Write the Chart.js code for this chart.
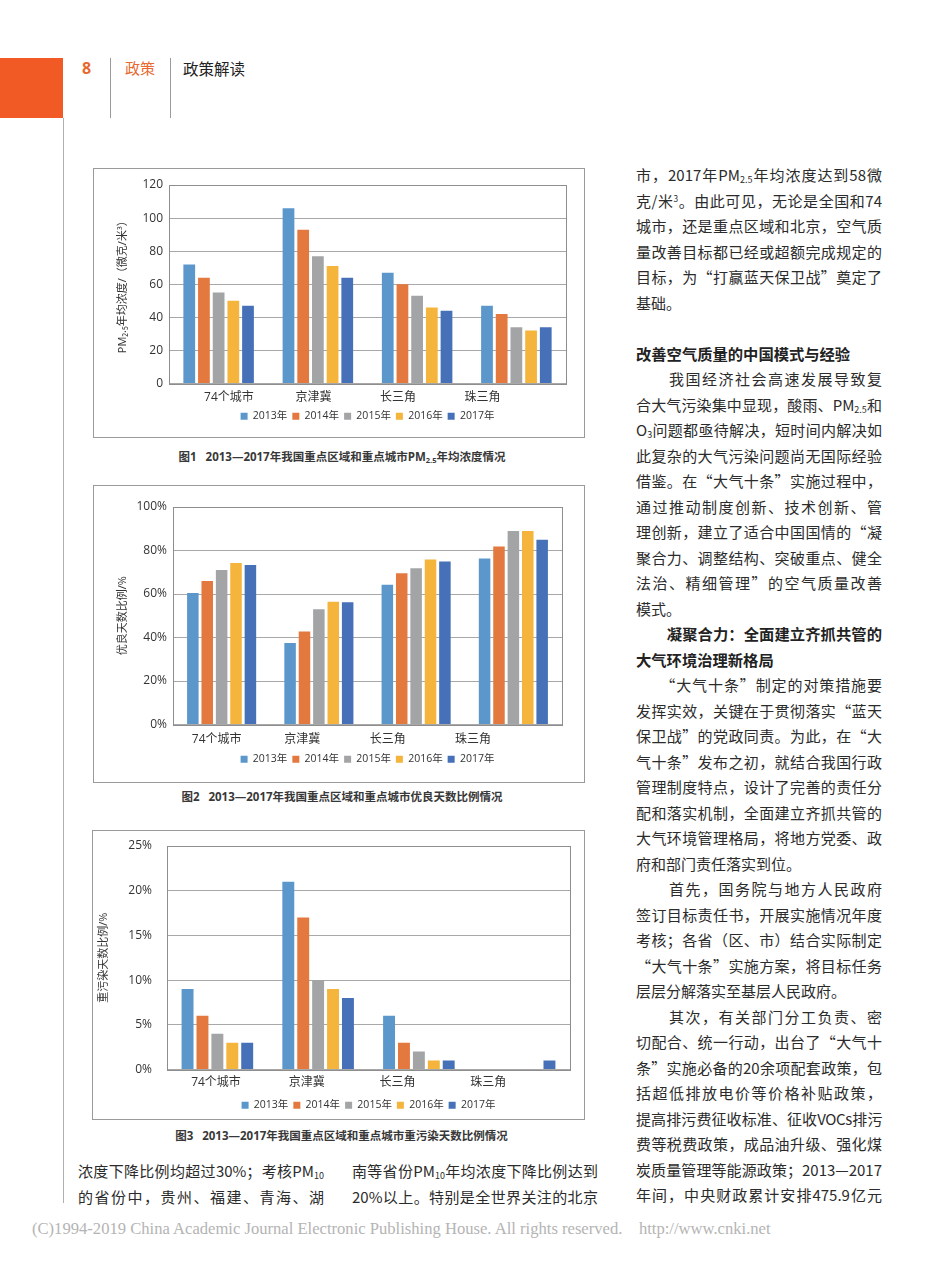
<!DOCTYPE html>
<html>
<head>
<meta charset="utf-8">
<script src="https://cdn.jsdelivr.net/npm/chart.js@4.4.0/dist/chart.umd.min.js"></script>
<style>
  body { margin: 0; width: 950px; height: 1267px; position: relative; overflow: hidden; background: #fff;
         font-family: "Noto Sans CJK SC", sans-serif; color: #2b2b2b; }
  .frame { position: absolute; border: 1px solid #9a9a9a; box-sizing: border-box; }
  .box { position: absolute; }
  .cap { position: absolute; text-align: center; font-size: 11.5px; font-weight: bold; color: #383838; white-space: nowrap;
         font-family: "Open Sans", "Noto Sans CJK SC", sans-serif; }
  .cap sub { font-size: 65%; vertical-align: -0.25em; line-height: 0; }
  .col { position: absolute; width: 246px; font-size: 15px; }
  .col div { height: 25.5px; line-height: 25.5px; text-align: justify; text-align-last: justify; white-space: nowrap; }
  .col div.l { text-align-last: left; }
  .col div.h { font-weight: bold; font-size: 15.3px; color: #222; }
  .col div.t { letter-spacing: -0.4px; }
  .col sub { font-size: 60%; vertical-align: -0.25em; line-height: 0; }
  .col sup { font-size: 55%; vertical-align: 0.6em; line-height: 0; }
  .vline { position: absolute; width: 1px; background: #9a9a9a; }
</style>
</head>
<body>

<div style="position:absolute;left:0;top:58px;width:63px;height:60px;background:#f15a24"></div>
<div class="vline" style="left:63px;top:118px;height:1085px;background:#b0b0b0"></div>
<div style="position:absolute;left:82px;top:57px;font-size:16px;font-weight:bold;color:#e8682f;font-family:'Open Sans',sans-serif">8</div>
<div class="vline" style="left:110px;top:58px;height:60px"></div>
<div style="position:absolute;left:125px;top:57px;font-size:15px;color:#e8682f">政策</div>
<div class="vline" style="left:170px;top:58px;height:60px"></div>
<div style="position:absolute;left:183px;top:57px;font-size:15.5px;color:#222">政策解读</div>

<div class="frame" style="left:93px;top:168px;width:492px;height:270px"></div>
<div class="box" style="left:94px;top:169px;width:490px;height:268px"><canvas id="c1"></canvas></div>
<div class="cap" style="left:93px;top:448px;width:498px">图1&nbsp;&nbsp;&nbsp;2013—2017年我国重点区域和重点城市PM<sub>2.5</sub>年均浓度情况</div>

<div class="frame" style="left:93px;top:485px;width:492px;height:298px"></div>
<div class="box" style="left:94px;top:486px;width:490px;height:296px"><canvas id="c2"></canvas></div>
<div class="cap" style="left:93px;top:788px;width:498px">图2&nbsp;&nbsp;&nbsp;2013—2017年我国重点区域和重点城市优良天数比例情况</div>

<div class="frame" style="left:92px;top:830px;width:493px;height:290px"></div>
<div class="box" style="left:93px;top:831px;width:491px;height:291px"><canvas id="c3"></canvas></div>
<div class="cap" style="left:92px;top:1127px;width:499px">图3&nbsp;&nbsp;&nbsp;2013—2017年我国重点区域和重点城市重污染天数比例情况</div>

<div class="col" style="left:636px;top:162px">
  <div>市，2017年PM<sub>2.5</sub>年均浓度达到58微</div>
  <div>克/米<sup>3</sup>。由此可见，无论是全国和74</div>
  <div>城市，还是重点区域和北京，空气质</div>
  <div>量改善目标都已经或超额完成规定的</div>
  <div>目标，为“打赢蓝天保卫战”奠定了</div>
  <div class="l">基础。</div>
  <div class="l"></div>
  <div class="l h">改善空气质量的中国模式与经验</div>
  <div>　　我国经济社会高速发展导致复</div>
  <div>合大气污染集中显现，酸雨、PM<sub>2.5</sub>和</div>
  <div>O<sub>3</sub>问题都亟待解决，短时间内解决如</div>
  <div>此复杂的大气污染问题尚无国际经验</div>
  <div>借鉴。在“大气十条”实施过程中，</div>
  <div>通过推动制度创新、技术创新、管</div>
  <div>理创新，建立了适合中国国情的“凝</div>
  <div>聚合力、调整结构、突破重点、健全</div>
  <div>法治、精细管理”的空气质量改善</div>
  <div class="l">模式。</div>
  <div class="h">　　凝聚合力：全面建立齐抓共管的</div>
  <div class="l h">大气环境治理新格局</div>
  <div>　　“大气十条”制定的对策措施要</div>
  <div>发挥实效，关键在于贯彻落实“蓝天</div>
  <div>保卫战”的党政同责。为此，在“大</div>
  <div>气十条”发布之初，就结合我国行政</div>
  <div>管理制度特点，设计了完善的责任分</div>
  <div>配和落实机制，全面建立齐抓共管的</div>
  <div>大气环境管理格局，将地方党委、政</div>
  <div class="l">府和部门责任落实到位。</div>
  <div>　　首先，国务院与地方人民政府</div>
  <div>签订目标责任书，开展实施情况年度</div>
  <div>考核；各省（区、市）结合实际制定</div>
  <div>“大气十条”实施方案，将目标任务</div>
  <div class="l">层层分解落实至基层人民政府。</div>
  <div>　　其次，有关部门分工负责、密</div>
  <div>切配合、统一行动，出台了“大气十</div>
  <div>条”实施必备的20余项配套政策，包</div>
  <div>括超低排放电价等价格补贴政策，</div>
  <div class="t">提高排污费征收标准、征收VOCs排污</div>
  <div>费等税费政策，成品油升级、强化煤</div>
  <div>炭质量管理等能源政策；2013—2017</div>
  <div>年间，中央财政累计安排475.9亿元</div>
</div>

<div class="col" style="left:78px;top:1158px">
  <div>浓度下降比例均超过30%；考核PM<sub>10</sub></div>
  <div>的省份中，贵州、福建、青海、湖</div>
</div>
<div class="col" style="left:352px;top:1158px">
  <div>南等省份PM<sub>10</sub>年均浓度下降比例达到</div>
  <div>20%以上。特别是全世界关注的北京</div>
</div>

<div style="position:absolute;left:32px;top:1219px;font-family:'Liberation Serif',serif;font-size:16.6px;color:#b4b4b4;white-space:pre">(C)1994-2019 China Academic Journal Electronic Publishing House. All rights reserved.    http://www.cnki.net</div>

<script>
const regions = ['74个城市', '京津冀', '长三角', '珠三角'];
const years = ['2013年', '2014年', '2015年', '2016年', '2017年'];
const colors = ['#5b97cb', '#e4793f', '#a3a4a6', '#f5b43c', '#4671b8'];

// 图1 PM2.5 年均浓度（微克/米3）
const pm25_2013 = [72, 106, 67, 47];
const pm25_2014 = [64, 93, 60, 42];
const pm25_2015 = [55, 77, 53, 34];
const pm25_2016 = [50, 71, 46, 32];
const pm25_2017 = [47, 64, 44, 34];

// 图2 优良天数比例（%）
const good_2013 = [60.5, 37.5, 64.2, 76.3];
const good_2014 = [66.0, 42.8, 69.5, 81.8];
const good_2015 = [71.0, 53.0, 71.8, 89.0];
const good_2016 = [74.2, 56.4, 75.9, 89.0];
const good_2017 = [73.3, 56.2, 75.0, 85.0];

// 图3 重污染天数比例（%）
const heavy_2013 = [9, 21, 6, 0];
const heavy_2014 = [6, 17, 3, 0];
const heavy_2015 = [4, 10, 2, 0];
const heavy_2016 = [3, 9, 1, 0];
const heavy_2017 = [3, 8, 1, 1];

const font = "'Open Sans','Noto Sans CJK SC',sans-serif";

// outline round the plot area
const plotBox = {
    id: 'plotBox',
    beforeDatasetsDraw(chart) {
        const a = chart.chartArea, c = chart.ctx;
        c.save();
        c.strokeStyle = '#8e8e8e';
        c.lineWidth = 1;
        c.strokeRect(Math.round(a.left) + 0.5, Math.round(a.top) + 0.5, Math.round(a.right - a.left), Math.round(a.bottom - a.top));
        c.restore();
    }
};

function barChart(id, series, o) {
    new Chart(document.getElementById(id), {
        type: 'bar',
        data: {
            labels: regions,
            datasets: series.map((d, i) => ({
                label: years[i],
                data: d,
                backgroundColor: colors[i],
                xAxisID: 'x',
                categoryPercentage: 0.74,
                barPercentage: 0.8
            }))
        },
        options: {
            responsive: true,
            maintainAspectRatio: false,
            animation: false,
            layout: { padding: o.pad },
            plugins: {
                tooltip: { enabled: false },
                legend: {
                    position: 'bottom',
                    fullSize: false,
                    labels: { boxWidth: 7, boxHeight: 7, padding: 5, color: '#333', font: { size: 10.5, family: font } }
                }
            },
            scales: {
                x: { display: false },
                // category names sit on their own axis, placed as in the original figure
                xl: {
                    type: 'linear', position: 'bottom', offset: false, min: o.lmin, max: o.lmax,
                    grid: { display: false, drawTicks: false },
                    border: { display: false },
                    afterBuildTicks: s => { s.ticks = regions.map((r, i) => ({ value: i })); },
                    afterFit: s => { s.height = o.xh; },
                    ticks: { callback: v => regions[v], autoSkip: false, maxRotation: 0, padding: o.xPad,
                             color: '#333', font: { size: 12, family: font } }
                },
                y: {
                    min: 0, max: o.max,
                    grid: { color: '#a8a8a8', drawTicks: false },
                    border: { display: false },
                    ticks: { stepSize: o.step, callback: o.fmt, padding: o.yPad, color: '#333',
                             font: { size: 12, family: font } },
                    title: { display: true, text: o.title, color: '#333', padding: 0,
                             font: { size: 11, family: font } },
                    afterFit: s => { s.width = o.yw; s.paddingTop = 0; s.paddingBottom = 0; }
                }
            }
        },
        plugins: [plotBox]
    });
}

barChart('c1', [pm25_2013, pm25_2014, pm25_2015, pm25_2016, pm25_2017], {
    max: 120, step: 20, fmt: v => v, title: 'PM₂.₅年均浓度/（微克/米³）',
    pad: { left: 22, top: 16, right: 18, bottom: 5.5 }, yw: 53, yPad: 6, xPad: 7, xh: 22.5,
    lmin: -0.71, lmax: 3.99
});

barChart('c2', [good_2013, good_2014, good_2015, good_2016, good_2017], {
    max: 100, step: 20, fmt: v => v + '%', title: '优良天数比例/%',
    pad: { left: 22, top: 21, right: 22, bottom: 7.5 }, yw: 57, yPad: 6, xPad: 8, xh: 24.5,
    lmin: -0.511, lmax: 4.04
});

barChart('c3', [heavy_2013, heavy_2014, heavy_2015, heavy_2016, heavy_2017], {
    max: 25, step: 5, fmt: v => v + '%', title: '重污染天数比例/%',
    pad: { left: 4, top: 15, right: 14, bottom: 1.5 }, yw: 70, yPad: 15, xPad: 6, xh: 25.5,
    lmin: -0.54, lmax: 3.9
});
</script>
</body>
</html>
